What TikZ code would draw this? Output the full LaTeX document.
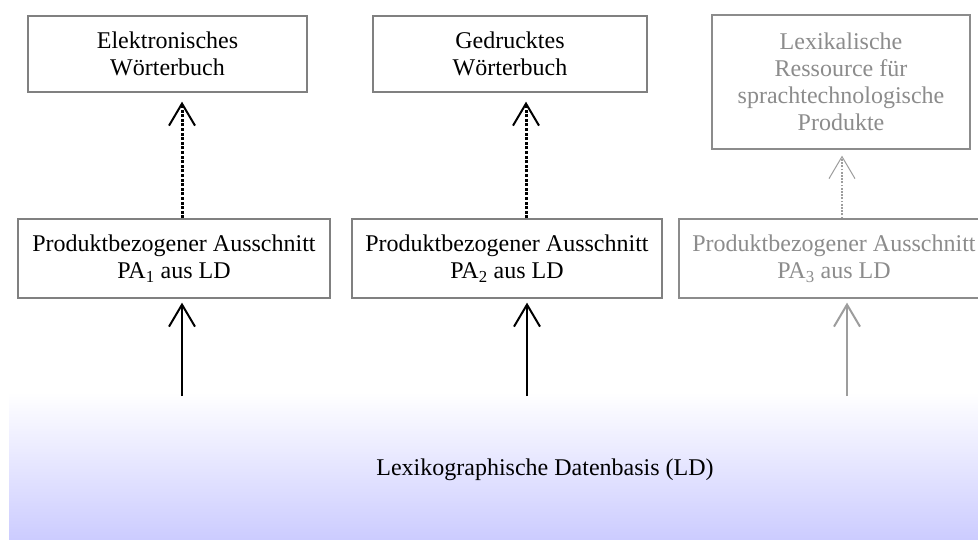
\documentclass[tikz,border=0pt]{standalone}
\usepackage{fontspec}
\setmainfont{Liberation Serif}
\usetikzlibrary{arrows.meta}
\definecolor{boxline}{RGB}{128,128,128}
\definecolor{faint}{RGB}{140,140,140}
\definecolor{lav}{RGB}{204,204,255}
\tikzset{
  box/.style={draw=boxline, line width=1.3pt, inner sep=0pt, align=center,
    font=\fontsize{24}{27}\selectfont, fill=white},
  fbox/.style={box, text=faint, draw=faint},
  solidarrow/.style={line width=2pt, -{Straight Barb[length=22pt,width=26pt]}},
  dotarrow/.style={line width=3pt, dash pattern=on 3pt off 1.6pt, -{Straight Barb[length=22pt,width=26pt,line width=2pt]}},
  fsolidarrow/.style={solidarrow, draw=faint!85},
  fdotarrow/.style={line width=1.2pt, draw=faint!85, dash pattern=on 1.8pt off 1.4pt, -{Straight Barb[length=22pt,width=26pt,line width=1pt]}}
}
\begin{document}
\begin{tikzpicture}[x=1pt,y=-1pt]
\clip (0,0) rectangle (978,539);
\fill[white] (0,0) rectangle (978,539);
\shade[top color=white, bottom color=lav] (9,392) rectangle (978,539);
\node[font=\fontsize{24}{27}\selectfont] (ld) at (545,470) {Lexikographische Datenbasis (LD)};

\node[box, minimum width=279pt, minimum height=76pt] (e1) at (167.5,54) {Elektronisches\\Wörterbuch};
\node[box, minimum width=274pt, minimum height=76pt] (e2) at (510,54) {Gedrucktes\\Wörterbuch};
\node[fbox, minimum width=258pt, minimum height=134pt] (e3) at (841,82) {Lexikalische\\Ressource für\\sprachtechnologische\\Produkte};

\node[box, minimum width=312pt, minimum height=79pt] (pa1) at (174,258.5) {Produktbezogener Ausschnitt\\PA\textsubscript{1} aus LD};
\node[box, minimum width=310pt, minimum height=79pt] (pa2) at (507,258.5) {Produktbezogener Ausschnitt\\PA\textsubscript{2} aus LD};
\node[fbox, minimum width=310pt, minimum height=79pt] (pa3) at (834,258.5) {Produktbezogener Ausschnitt\\PA\textsubscript{3} aus LD};

\coordinate (s1) at (182,396);
\coordinate (s2) at (527,396);
\coordinate (s3) at (847,396);
\coordinate (d1) at (182,219);
\coordinate (d2) at (526,219);
\coordinate (d3) at (842,219);

\draw[solidarrow, shorten >=4pt] (s1) -- (s1 |- pa1.south);
\draw[solidarrow, shorten >=4pt] (s2) -- (s2 |- pa2.south);
\draw[fsolidarrow, shorten >=4pt] (s3) -- (s3 |- pa3.south);

\draw[dotarrow, shorten >=9pt] (d1 |- pa1.north) -- (d1 |- e1.south);
\draw[dotarrow, shorten >=9pt] (d2 |- pa2.north) -- (d2 |- e2.south);
\draw[fdotarrow, shorten >=6pt] (d3 |- pa3.north) -- (d3 |- e3.south);
\end{tikzpicture}
\end{document}
